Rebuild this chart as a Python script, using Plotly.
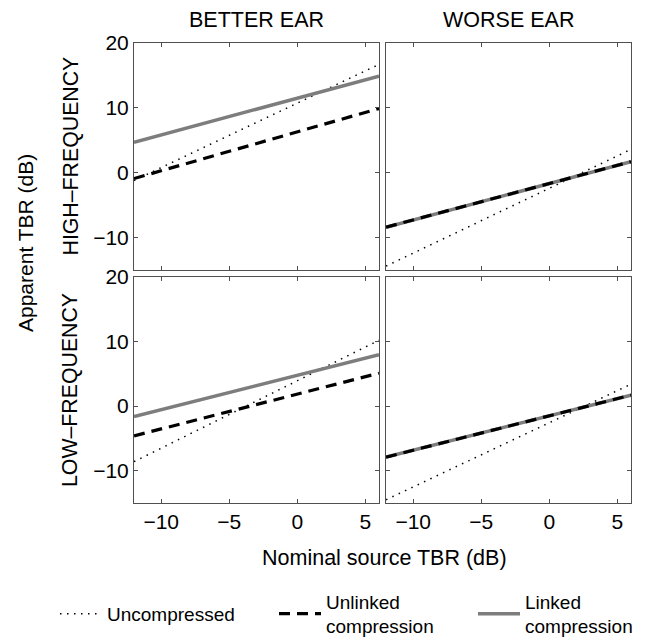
import plotly.graph_objects as go

# Nominal source TBR (dB) at the two ends of each line
x_nominal = [-12, 6]

# Apparent TBR (dB) at x = -12 and x = 6, per panel
uncompressed_better_high = [-1.2, 16.7]
uncompressed_worse_high = [-14.4, 3.6]
uncompressed_better_low = [-8.6, 10.2]
uncompressed_worse_low = [-14.5, 3.4]

unlinked_better_high = [-0.9, 9.9]
unlinked_worse_high = [-8.4, 1.7]
unlinked_better_low = [-4.6, 5.1]
unlinked_worse_low = [-7.9, 1.7]

linked_better_high = [4.7, 14.9]
linked_worse_high = [-8.4, 1.7]
linked_better_low = [-1.6, 7.95]
linked_worse_low = [-7.9, 1.7]

x_ticks = [-10, -5, 0, 5]
y_ticks = [-10, 0, 10, 20]
column_titles = ["BETTER EAR", "WORSE EAR"]
row_titles = ["HIGH\u2013FREQUENCY", "LOW\u2013FREQUENCY"]
series_names = ["Uncompressed", "Unlinked<br>compression", "Linked<br>compression"]

FONT = "Liberation Sans, Arial, Helvetica, sans-serif"
GRAY = "rgb(125,125,125)"
FRAME = "rgb(80,80,80)"

W, H = 655, 638
# panel boxes in pixels (left, right, top, bottom)
cols = [(134, 379), (386, 631)]
rows = [(43, 270), (277, 503)]

fig = go.Figure()

panels = [
    ("x", "y", uncompressed_better_high, unlinked_better_high, linked_better_high),
    ("x2", "y2", uncompressed_worse_high, unlinked_worse_high, linked_worse_high),
    ("x3", "y3", uncompressed_better_low, unlinked_better_low, linked_better_low),
    ("x4", "y4", uncompressed_worse_low, unlinked_worse_low, linked_worse_low),
]

for i, (xa, ya, unc, unl, lnk) in enumerate(panels):
    first = i == 0
    fig.add_trace(go.Scatter(
        x=x_nominal, y=unc, xaxis=xa, yaxis=ya, mode="lines",
        line=dict(color="black", width=1.5, dash="1.5px,5.5px"),
        name=series_names[0], legend="legend", legendgroup="unc", showlegend=first,
    ))
    fig.add_trace(go.Scatter(
        x=x_nominal, y=lnk, xaxis=xa, yaxis=ya, mode="lines",
        line=dict(color=GRAY, width=3.5),
        name=series_names[2], legend="legend3", legendgroup="lnk", showlegend=first,
    ))
    fig.add_trace(go.Scatter(
        x=x_nominal, y=unl, xaxis=xa, yaxis=ya, mode="lines",
        line=dict(color="black", width=3.2, dash="11px,7px"),
        name=series_names[1], legend="legend2", legendgroup="unl", showlegend=first,
    ))

axis_common = dict(
    showgrid=False, zeroline=False, showline=True, linecolor=FRAME, linewidth=1,
    mirror="ticks", ticks="inside", ticklen=4, tickcolor=FRAME, tickwidth=1,
    tickfont=dict(family=FONT, size=21, color="black"),
)

layout_axes = {}
names = [("xaxis", "yaxis"), ("xaxis2", "yaxis2"), ("xaxis3", "yaxis3"), ("xaxis4", "yaxis4")]
for i, (xn, yn) in enumerate(names):
    r, c = divmod(i, 2)
    l, rt = cols[c]
    t, b = rows[r]
    layout_axes[xn] = dict(
        axis_common, domain=[l / W, rt / W], range=[-12, 6],
        tickvals=x_ticks, showticklabels=(r == 1),
        anchor="y" if i == 0 else f"y{i + 1}",
    )
    layout_axes[yn] = dict(
        axis_common, domain=[1 - b / H, 1 - t / H], range=[-15, 20],
        tickvals=y_ticks, showticklabels=(c == 0),
        anchor="x" if i == 0 else f"x{i + 1}",
    )

fig.update_layout(**layout_axes)

annotations = []
for c, title in enumerate(column_titles):
    l, rt = cols[c]
    annotations.append(dict(
        text=title, x=(l + rt) / 2 / W, y=1 - 20 / H, xref="paper", yref="paper",
        showarrow=False, xanchor="center", yanchor="middle",
        font=dict(family=FONT, size=21.5, color="black"),
    ))
for r, title in enumerate(row_titles):
    t, b = rows[r]
    annotations.append(dict(
        text=title, x=70 / W, y=1 - (t + b) / 2 / H, xref="paper", yref="paper",
        showarrow=False, xanchor="center", yanchor="middle", textangle=-90,
        font=dict(family=FONT, size=21.3, color="black"),
    ))
annotations.append(dict(
    text="Apparent TBR (dB)", x=25 / W, y=1 - 243 / H, xref="paper", yref="paper",
    showarrow=False, xanchor="center", yanchor="middle", textangle=-90,
    font=dict(family=FONT, size=21, color="black"),
))
annotations.append(dict(
    text="Nominal source TBR (dB)", x=384 / W, y=1 - 558 / H, xref="paper", yref="paper",
    showarrow=False, xanchor="center", yanchor="middle",
    font=dict(family=FONT, size=21.5, color="black"),
))

legend_common = dict(
    orientation="h", xanchor="left", yanchor="middle", y=1 - 614 / H,
    font=dict(family=FONT, size=19, color="black"),
    itemwidth=42, bgcolor="rgba(0,0,0,0)",
)

fig.update_layout(
    width=W, height=H,
    margin=dict(l=0, r=0, t=0, b=0, autoexpand=False),
    paper_bgcolor="white", plot_bgcolor="white",
    annotations=annotations,
    showlegend=True,
    legend=dict(legend_common, x=55 / W),
    legend2=dict(legend_common, x=274 / W),
    legend3=dict(legend_common, x=473 / W),
)

fig.write_html("out.html")
